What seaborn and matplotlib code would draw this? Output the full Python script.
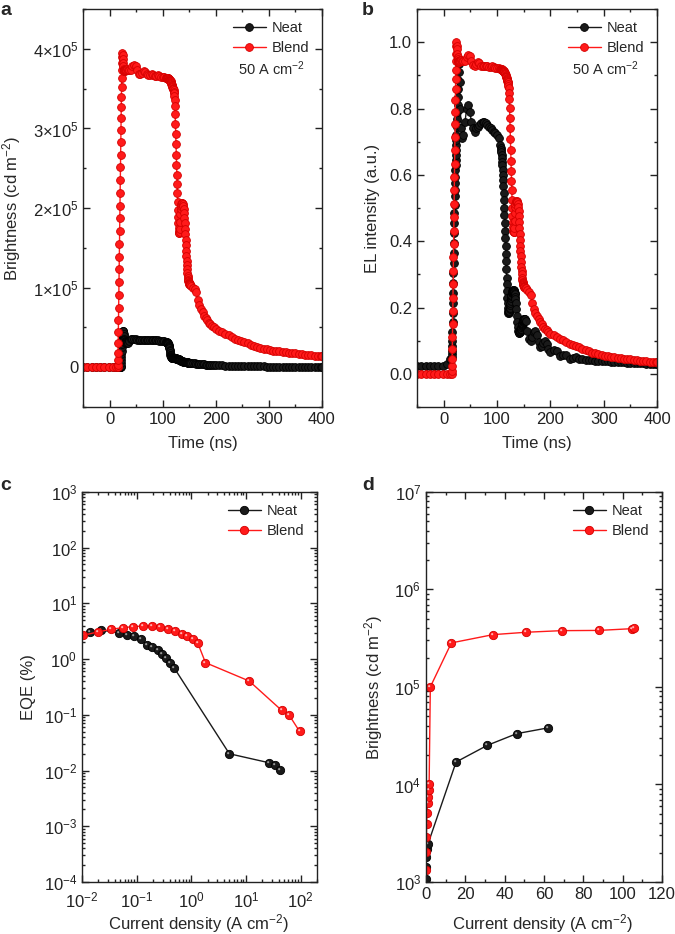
import matplotlib
matplotlib.use("Agg")
import matplotlib.pyplot as plt
import seaborn as sns
from matplotlib.path import Path
from matplotlib.ticker import MultipleLocator, FuncFormatter, LogLocator, NullFormatter

# ---------------- data ----------------
# a / b : transient traces at 50 A cm-2 (shared time grid, ns)
time_ns = [
    -50, -42, -34, -26, -18, -10, -2, 6, 12,
    15.0, 15.3, 15.6, 15.9, 16.2, 16.5, 16.8, 17.1, 17.4, 17.7, 18.0, 18.3, 18.6, 18.9, 19.2, 19.5,
    19.8, 20.1, 20.4, 20.7, 21.0, 21.3, 21.6, 21.9, 22.2, 22.5, 22.8, 23.1, 23.4, 23.7, 24.0,
    24.5, 25, 25.5, 26, 26.5, 27, 27.5, 28, 28.5, 29, 30,
    31, 33, 35, 37, 40, 43, 46, 49, 52, 55, 58, 61, 64, 67, 70, 73, 76, 79, 82, 85, 88, 91, 94, 97,
    100, 103, 106,
    107, 107.5, 108, 108.5, 109, 109.5, 110, 110.5, 111, 111.5, 112, 112.5, 113, 113.5, 114, 114.5,
    115, 115.5, 116, 116.5, 117, 117.5, 118, 118.5, 119, 119.5, 120, 120.5, 121, 121.5, 122, 122.5,
    123, 123.5, 124, 124.5, 125, 125.5, 126, 126.5, 127, 127.5, 128, 128.5, 129, 129.5, 130, 130.5,
    131, 131.5, 132, 132.5, 133, 133.5, 134, 134.5, 135,
    136, 137, 138, 139, 140,
    140.5, 141, 141.5, 142, 142.5, 143, 143.5, 144, 144.5, 145, 145.5, 146, 146.5, 147, 147.5, 148,
    148.5, 149, 149.5, 150, 150.5, 151, 151.5, 152,
    154, 157, 160, 163, 166, 169, 172, 175, 178, 181, 184, 187, 190, 193, 196, 200,
    206, 212, 218, 224, 230, 236, 242, 248, 254, 260, 266, 272, 278, 284, 290, 296, 302, 308, 314,
    320, 326, 332, 338, 344, 350, 356, 362, 368, 374, 380, 386, 392, 398, 400,
]

# brightness in units of 1e5 cd m-2
neat_bright = [
    0, 0, 0, 0, 0, 0, 0, 0, 0,
    0, 0, 0, 0, 0, 0, 0, 0, 0, 0, 0, 0, 0, 0, 0, 0, 0, 0, 0, 0,
    0.02, 0.05, 0.09, 0.13, 0.17, 0.21, 0.25, 0.29, 0.33, 0.37, 0.4,
    0.43, 0.45, 0.46, 0.45, 0.42, 0.39, 0.36, 0.34, 0.33, 0.32, 0.32,
    0.31, 0.3, 0.31, 0.33, 0.35, 0.36, 0.36, 0.35, 0.34, 0.34, 0.34, 0.34, 0.34, 0.34, 0.34, 0.34,
    0.34, 0.34, 0.34, 0.34, 0.34, 0.34, 0.33, 0.33, 0.33, 0.33, 0.32,
    0.32, 0.32, 0.32, 0.31, 0.31, 0.3, 0.3, 0.29, 0.28, 0.27, 0.26, 0.24, 0.22, 0.2, 0.18, 0.16,
    0.15, 0.14, 0.13, 0.125, 0.12, 0.12, 0.115, 0.115, 0.11, 0.11, 0.11, 0.11, 0.11, 0.11, 0.11, 0.11,
    0.11, 0.11, 0.11, 0.11, 0.11, 0.11, 0.105, 0.105, 0.105, 0.105, 0.1, 0.1, 0.1, 0.1, 0.1, 0.098,
    0.096, 0.094, 0.092, 0.09, 0.088, 0.086, 0.084, 0.082, 0.08,
    0.078, 0.076, 0.074, 0.072, 0.07,
    0.07, 0.069, 0.069, 0.068, 0.067, 0.066, 0.065, 0.064, 0.063, 0.062, 0.062, 0.061, 0.06, 0.06,
    0.059, 0.058, 0.058, 0.057, 0.057, 0.056, 0.056, 0.055, 0.055, 0.054,
    0.053, 0.05, 0.048, 0.046, 0.044, 0.042, 0.04, 0.038, 0.036, 0.034, 0.033, 0.032, 0.03, 0.029,
    0.028, 0.027,
    0.025, 0.023, 0.021, 0.02, 0.019, 0.018, 0.017, 0.016, 0.015, 0.014, 0.013, 0.012, 0.011, 0.01,
    0.01, 0.009, 0.009, 0.008, 0.008, 0.007, 0.007, 0.006, 0.006, 0.005, 0.005, 0.005, 0.004, 0.004,
    0.004, 0.003, 0.003, 0.003, 0.003, 0.003,
]
blend_bright = [
    0, 0, 0, 0, 0, 0, 0, 0, 0,
    0.0, 0.03, 0.09, 0.18, 0.3, 0.44, 0.59, 0.75, 0.91, 1.07, 1.23, 1.39, 1.55, 1.71, 1.87, 2.03,
    2.19, 2.35, 2.51, 2.67, 2.83, 2.98, 3.13, 3.27, 3.4, 3.52, 3.63, 3.73, 3.82, 3.9, 3.95,
    3.92, 3.87, 3.82, 3.78, 3.75, 3.73, 3.72, 3.72, 3.72, 3.73, 3.74,
    3.74, 3.75, 3.74, 3.73, 3.74, 3.78, 3.8, 3.79, 3.74, 3.69, 3.68, 3.7, 3.72, 3.71, 3.68, 3.67,
    3.67, 3.68, 3.67, 3.66, 3.66, 3.67, 3.66, 3.65, 3.65, 3.65, 3.64,
    3.64, 3.64, 3.64, 3.64, 3.63, 3.63, 3.63, 3.63, 3.62, 3.62, 3.62, 3.61, 3.61, 3.6, 3.6, 3.59,
    3.59, 3.58, 3.57, 3.56, 3.55, 3.54, 3.53, 3.52, 3.51, 3.5, 3.49, 3.48, 3.46, 3.44, 3.41, 3.36,
    3.28, 3.18, 3.06, 2.93, 2.8, 2.67, 2.54, 2.42, 2.3, 2.19, 2.08, 1.98, 1.89, 1.81, 1.75, 1.71,
    1.69, 1.69, 1.7, 1.74, 1.82, 1.92, 1.99, 2.03, 2.05,
    2.06, 2.06, 2.05, 2.03, 1.99,
    1.94, 1.88, 1.81, 1.74, 1.67, 1.6, 1.53, 1.46, 1.4, 1.34, 1.28, 1.23, 1.19, 1.15, 1.12, 1.1,
    1.08, 1.07, 1.06, 1.05, 1.05, 1.04, 1.04, 1.03,
    1.02, 1.0, 0.98, 0.94, 0.85, 0.78, 0.73, 0.69, 0.65, 0.62, 0.59, 0.56, 0.54, 0.52, 0.5, 0.48,
    0.46, 0.44, 0.42, 0.4, 0.38, 0.36, 0.345, 0.33, 0.315, 0.3, 0.285, 0.27, 0.255, 0.245, 0.235,
    0.225, 0.218, 0.21, 0.204, 0.198, 0.193, 0.188, 0.183, 0.178, 0.173, 0.168, 0.163, 0.158, 0.154,
    0.15, 0.147, 0.144, 0.141, 0.14,
]

# normalised EL intensity (a.u.)
neat_el = [
    0.025, 0.025, 0.025, 0.025, 0.025, 0.025, 0.025, 0.03, 0.045,
    0.05, 0.06, 0.07, 0.085, 0.1, 0.125, 0.155, 0.185, 0.215, 0.245, 0.275, 0.305, 0.335, 0.365,
    0.395, 0.425, 0.455, 0.485, 0.51, 0.535, 0.555, 0.575, 0.595, 0.615, 0.63, 0.645, 0.66, 0.675,
    0.69, 0.705, 0.72,
    0.745, 0.77, 0.79, 0.81, 0.835, 0.86, 0.885, 0.91, 0.935, 0.94, 0.88,
    0.8, 0.74, 0.71, 0.72, 0.76, 0.8, 0.81, 0.79, 0.76, 0.74, 0.73, 0.74, 0.745, 0.75, 0.755, 0.76,
    0.76, 0.755, 0.75, 0.745, 0.74, 0.735, 0.73, 0.725, 0.72, 0.71, 0.69,
    0.68, 0.675, 0.67, 0.66, 0.65, 0.64, 0.63, 0.615, 0.6, 0.585, 0.565, 0.545, 0.525, 0.5, 0.48,
    0.455, 0.43, 0.41, 0.385, 0.36, 0.34, 0.315, 0.29, 0.27, 0.25, 0.23, 0.215, 0.2, 0.19, 0.185,
    0.185, 0.187, 0.19, 0.195, 0.2, 0.207, 0.214, 0.221, 0.228, 0.234, 0.239, 0.243, 0.246, 0.248,
    0.25, 0.251, 0.252, 0.252, 0.252, 0.251, 0.25, 0.248, 0.245, 0.24, 0.233, 0.225, 0.215,
    0.195, 0.175, 0.155, 0.14, 0.13,
    0.127, 0.125, 0.124, 0.124, 0.125, 0.126, 0.128, 0.13, 0.133, 0.136, 0.14, 0.144, 0.148, 0.151,
    0.154, 0.157, 0.159, 0.161, 0.163, 0.164, 0.165, 0.165, 0.165, 0.164,
    0.16, 0.13, 0.105, 0.1, 0.11, 0.125, 0.13, 0.118, 0.095, 0.08, 0.083, 0.093, 0.1, 0.09, 0.075,
    0.066,
    0.072, 0.068, 0.053, 0.056, 0.058, 0.046, 0.047, 0.05, 0.046, 0.044, 0.043, 0.042, 0.041, 0.04,
    0.04, 0.039, 0.038, 0.038, 0.037, 0.036, 0.036, 0.035, 0.035, 0.034, 0.034, 0.033, 0.033, 0.032,
    0.032, 0.031, 0.031, 0.03, 0.03, 0.03,
]
blend_el = [
    0, 0, 0, 0, 0, 0, 0, 0, 0,
    0.0, 0.008, 0.023, 0.045, 0.076, 0.111, 0.149, 0.189, 0.23, 0.27, 0.311, 0.351, 0.391, 0.432,
    0.472, 0.513, 0.553, 0.593, 0.634, 0.674, 0.715, 0.753, 0.79, 0.826, 0.859, 0.889, 0.917, 0.942,
    0.965, 0.99, 1.0,
    0.99, 0.98, 0.965, 0.955, 0.948, 0.943, 0.94, 0.94, 0.94, 0.942, 0.945,
    0.944, 0.947, 0.944, 0.942, 0.944, 0.955, 0.96, 0.957, 0.944, 0.932, 0.929, 0.934, 0.939, 0.937,
    0.929, 0.927, 0.927, 0.929, 0.927, 0.924, 0.924, 0.927, 0.924, 0.922, 0.922, 0.922, 0.919,
    0.919, 0.919, 0.919, 0.919, 0.917, 0.917, 0.917, 0.917, 0.914, 0.914, 0.914, 0.912, 0.912, 0.909,
    0.909, 0.907, 0.907, 0.904, 0.902, 0.899, 0.896, 0.894, 0.891, 0.889, 0.886, 0.884, 0.881, 0.879,
    0.874, 0.869, 0.861, 0.848, 0.828, 0.803, 0.773, 0.74, 0.707, 0.674, 0.641, 0.611, 0.581, 0.553,
    0.525, 0.5, 0.477, 0.457, 0.442, 0.432, 0.427, 0.427, 0.429, 0.439, 0.46, 0.485, 0.503, 0.513,
    0.518,
    0.52, 0.52, 0.518, 0.513, 0.503,
    0.49, 0.475, 0.457, 0.439, 0.422, 0.404, 0.386, 0.369, 0.354, 0.338, 0.323, 0.311, 0.301, 0.29,
    0.283, 0.278, 0.273, 0.27, 0.268, 0.265, 0.265, 0.263, 0.263, 0.26,
    0.258, 0.253, 0.247, 0.237, 0.215, 0.197, 0.184, 0.174, 0.164, 0.157, 0.149, 0.141, 0.136, 0.131,
    0.126, 0.121,
    0.116, 0.111, 0.106, 0.101, 0.096, 0.091, 0.087, 0.083, 0.08, 0.076, 0.072, 0.068, 0.064, 0.062,
    0.059, 0.057, 0.055, 0.053, 0.052, 0.05, 0.049, 0.047, 0.046, 0.045, 0.044, 0.042, 0.041, 0.04,
    0.039, 0.038, 0.037, 0.036, 0.036, 0.035,
]

# c : EQE vs current density
c_neat_j = [0.0142, 0.0225, 0.0478, 0.0658, 0.0895, 0.12, 0.154, 0.195, 0.241, 0.293, 0.351,
            0.415, 0.484, 4.98, 26.5, 34.1, 42.1]
c_neat_eqe = [3.07, 3.29, 2.98, 2.67, 2.6, 2.33, 1.77, 1.65, 1.44, 1.25, 1.06, 0.863, 0.70,
              0.020, 0.0138, 0.0124, 0.0101]
c_blend_j = [0.0104, 0.0195, 0.0341, 0.0556, 0.0869, 0.132, 0.193, 0.269, 0.377, 0.512, 0.667,
             0.845, 1.06, 1.32, 1.82, 11.5, 45.2, 61.4, 95.9]
c_blend_eqe = [2.67, 3.07, 3.42, 3.67, 3.82, 3.93, 3.87, 3.77, 3.52, 3.19, 2.86, 2.56, 2.26, 1.92,
               0.863, 0.404, 0.12, 0.10, 0.0505]

# d : brightness vs current density
d_neat_j = [0.05, 0.1, 0.2, 0.5, 1.0, 15.3, 31.2, 46.1, 61.9]
d_neat_lum = [1080, 1430, 1800, 2200, 2450, 17000, 25200, 33200, 38000]
d_blend_j = [0.05, 0.1, 0.2, 0.35, 0.5, 0.8, 1.0, 1.3, 1.6, 2.2, 12.9, 34.1, 51.0, 69.0, 87.8,
             104.7, 105.9]
d_blend_lum = [1320, 2040, 2900, 3960, 5100, 6400, 7500, 8700, 10200, 100000, 283000, 344000,
               364000, 378000, 380000, 396000, 405000]

for s in (neat_bright, blend_bright, neat_el, blend_el):
    assert len(s) == len(time_ns), len(s)

# ---------------- style ----------------
sns.set_style("ticks")
plt.rcParams["font.family"] = ["Liberation Sans", "DejaVu Sans"]
plt.rcParams["mathtext.fontset"] = "custom"
plt.rcParams["mathtext.rm"] = "Liberation Sans"
plt.rcParams["mathtext.it"] = "Liberation Sans:italic"
plt.rcParams["mathtext.bf"] = "Liberation Sans:bold"

FS = 12
BLACK, BLACK_EDGE, BLACK_SHINE = "#1a1a1a", "#000000", "#9a9a9a"
RED, RED_EDGE, RED_SHINE = "#ff1a1a", "#d40000", "#ffb3b3"

# small off-centre spot used as a specular highlight on the spheres
_spot = Path.circle(center=(-0.16, 0.16), radius=0.13)
SPOT = Path(list(_spot.vertices) + [(0.5, 0.5), (-0.5, -0.5)],
            list(_spot.codes) + [Path.MOVETO, Path.MOVETO])


def style_axes(ax):
    ax.tick_params(which="both", direction="in", top=True, right=True,
                   labelsize=FS, width=1, colors="#222222")
    ax.tick_params(which="major", length=5)
    ax.tick_params(which="minor", length=2.5)
    for sp in ax.spines.values():
        sp.set_linewidth(1.0)
        sp.set_color("#222222")


def trace(ax, x, y, color, edge, label, ms, lw=1.0):
    sns.lineplot(x=x, y=y, ax=ax, sort=False, estimator=None, color=color, lw=lw,
                 marker="o", markersize=ms, markeredgecolor=edge, markeredgewidth=0.6,
                 label=label)


def shine(ax, x, y, color, ms):
    sns.lineplot(x=x, y=y, ax=ax, sort=False, estimator=None, linestyle="none",
                 marker=SPOT, markersize=ms, markerfacecolor=color,
                 markeredgecolor="none", legend=False)


def legend(ax):
    ax.legend(loc="upper right", frameon=False, fontsize=10.5, handlelength=2.3,
              handletextpad=0.4, labelspacing=0.4, borderaxespad=0.45)


fig = plt.figure(figsize=(6.75, 9.34), dpi=100)

# ---------------- a ----------------
ax = fig.add_axes([0.123, 0.5642, 0.354, 0.4261])
trace(ax, time_ns, neat_bright, BLACK, BLACK_EDGE, "Neat", 5.6)
trace(ax, time_ns, blend_bright, RED, RED_EDGE, "Blend", 5.6)
ax.set_xlim(-50, 400)
ax.set_ylim(-0.5, 4.5)
ax.xaxis.set_major_locator(MultipleLocator(100))
ax.xaxis.set_minor_locator(MultipleLocator(50))
ax.yaxis.set_major_locator(MultipleLocator(1))
ax.yaxis.set_minor_locator(MultipleLocator(0.5))
ax.yaxis.set_major_formatter(FuncFormatter(
    lambda v, p: "0" if abs(v) < 1e-9 else "%d\u00d710$^{5}$" % round(v)))
ax.set_xlabel("Time (ns)", fontsize=FS)
ax.set_ylabel(r"Brightness (cd m$^{-2}$)", fontsize=FS)
ax.yaxis.set_label_coords(-0.252, 0.5)
ax.xaxis.set_label_coords(0.5, -0.073)
style_axes(ax)
legend(ax)
ax.text(0.648, 0.849, r"50 A cm$^{-2}$", transform=ax.transAxes, fontsize=10.5, va="center")

# ---------------- b ----------------
ax = fig.add_axes([0.6178, 0.5642, 0.3556, 0.4261])
trace(ax, time_ns, neat_el, BLACK, BLACK_EDGE, "Neat", 5.6)
trace(ax, time_ns, blend_el, RED, RED_EDGE, "Blend", 5.6)
ax.set_xlim(-50, 400)
ax.set_ylim(-0.1, 1.1)
ax.xaxis.set_major_locator(MultipleLocator(100))
ax.xaxis.set_minor_locator(MultipleLocator(50))
ax.yaxis.set_major_locator(MultipleLocator(0.2))
ax.yaxis.set_minor_locator(MultipleLocator(0.1))
ax.yaxis.set_major_formatter(FuncFormatter(lambda v, p: "%.1f" % v))
ax.set_xlabel("Time (ns)", fontsize=FS)
ax.set_ylabel("EL intensity (a.u.)", fontsize=FS)
ax.yaxis.set_label_coords(-0.155, 0.5)
ax.xaxis.set_label_coords(0.5, -0.073)
style_axes(ax)
legend(ax)
ax.text(0.646, 0.849, r"50 A cm$^{-2}$", transform=ax.transAxes, fontsize=10.5, va="center")

# ---------------- c ----------------
ax = fig.add_axes([0.1215, 0.0557, 0.3481, 0.4176])
ax.set_xscale("log")
ax.set_yscale("log")
trace(ax, c_neat_j, c_neat_eqe, BLACK, BLACK_EDGE, "Neat", 6)
shine(ax, c_neat_j, c_neat_eqe, BLACK_SHINE, 6)
trace(ax, c_blend_j, c_blend_eqe, RED, RED_EDGE, "Blend", 6)
shine(ax, c_blend_j, c_blend_eqe, RED_SHINE, 6)
ax.set_xlim(1e-2, 200)
ax.set_ylim(1e-4, 1e3)
ax.xaxis.set_major_locator(LogLocator(base=10, numticks=20))
ax.xaxis.set_minor_locator(LogLocator(base=10, subs=range(2, 10), numticks=100))
ax.xaxis.set_minor_formatter(NullFormatter())
ax.yaxis.set_major_locator(LogLocator(base=10, numticks=20))
ax.yaxis.set_minor_locator(LogLocator(base=10, subs=range(2, 10), numticks=100))
ax.yaxis.set_minor_formatter(NullFormatter())
ax.set_xlabel(r"Current density (A cm$^{-2}$)", fontsize=FS)
ax.set_ylabel("EQE (%)", fontsize=FS)
ax.yaxis.set_label_coords(-0.196, 0.5)
ax.xaxis.set_label_coords(0.498, -0.078)
style_axes(ax)
ax.tick_params(axis="x", which="major", pad=6)
legend(ax)

# ---------------- d ----------------
ax = fig.add_axes([0.6311, 0.0557, 0.3496, 0.4176])
ax.set_yscale("log")
trace(ax, d_neat_j, d_neat_lum, BLACK, BLACK_EDGE, "Neat", 6)
shine(ax, d_neat_j, d_neat_lum, BLACK_SHINE, 6)
trace(ax, d_blend_j, d_blend_lum, RED, RED_EDGE, "Blend", 6)
shine(ax, d_blend_j, d_blend_lum, RED_SHINE, 6)
ax.set_xlim(0, 120)
ax.set_ylim(1e3, 1e7)
ax.xaxis.set_major_locator(MultipleLocator(20))
ax.xaxis.set_minor_locator(MultipleLocator(10))
ax.yaxis.set_major_locator(LogLocator(base=10, numticks=20))
ax.yaxis.set_minor_locator(LogLocator(base=10, subs=range(2, 10), numticks=100))
ax.yaxis.set_minor_formatter(NullFormatter())
ax.set_xlabel(r"Current density (A cm$^{-2}$)", fontsize=FS)
ax.set_ylabel(r"Brightness (cd m$^{-2}$)", fontsize=FS)
ax.yaxis.set_label_coords(-0.172, 0.5)
ax.xaxis.set_label_coords(0.496, -0.076)
style_axes(ax)
legend(ax)

# panel letters
for letter, x, y in [("a", 0.0, 0.984), ("b", 0.536, 0.984), ("c", 0.0, 0.4754), ("d", 0.536, 0.4754)]:
    fig.text(x, y, letter, fontsize=14, fontweight="bold", va="baseline")

fig.savefig("out.png", dpi=100)
